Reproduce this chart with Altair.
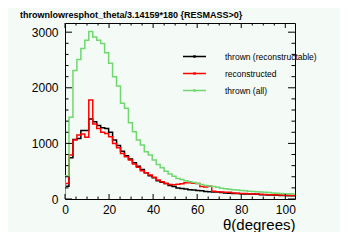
import altair as alt
import pandas as pd

BIN_WIDTH = 1.8
X_MAX = 104.4
Y_MAX = 3165

series_names = ["thrown (reconstructable)", "reconstructed", "thrown (all)"]
series_colors = ["#000000", "#ff0000", "#6fd86f"]

thrown_reco = [230, 740, 1070, 1090, 1230, 1230, 1440, 1390, 1320, 1280,
               1270, 1200, 1060, 960, 860, 780, 720, 650, 590, 530,
               470, 420, 380, 330, 300, 280, 245, 225, 200, 190,
               180, 165, 160, 155, 150, 135, 130, 128, 125, 115,
               110, 105, 100, 97, 95, 92, 90, 88, 85, 78,
               75, 72, 70, 68, 65, 62, 60, 58]
reconstructed = [280, 790, 1060, 1150, 1170, 1110, 1780, 1350, 1270, 1200,
                 1180, 1120, 1000, 920, 820, 760, 700, 630, 570, 510,
                 470, 430, 390, 340, 310, 280, 260, 255, 265, 275,
                 290, 290, 285, 280, 225, 215, 230, 140, 130, 125,
                 122, 120, 110, 105, 100, 98, 95, 92, 90, 85,
                 80, 78, 75, 72, 70, 68, 66, 63]
thrown_all = [420, 1470, 2310, 2510, 2705, 2855, 3010, 2915, 2855, 2795,
              2630, 2440, 2200, 2030, 1720, 1630, 1370, 1210, 1060, 970,
              850, 790, 700, 620, 560, 500, 450, 410, 370, 350,
              330, 310, 295, 280, 260, 245, 235, 225, 210, 195,
              185, 175, 165, 160, 155, 150, 140, 135, 130, 125,
              120, 115, 110, 105, 100, 95, 95, 90]

x_major = [0, 20, 40, 60, 80, 100]
x_minor = [v for v in range(0, 105, 5) if v % 20 != 0]
y_major = [0, 1000, 2000, 3000]
y_minor = [v for v in range(0, 3200, 200) if v % 1000 != 0]

rows = []
for name, vals in zip(series_names, [thrown_reco, reconstructed, thrown_all]):
    idx = 0
    rows.append({"series": name, "theta": 0.0, "count": 0, "idx": idx})
    for i, v in enumerate(vals):
        idx += 1
        rows.append({"series": name, "theta": round(i * BIN_WIDTH, 3), "count": v, "idx": idx})
    idx += 1
    rows.append({"series": name, "theta": round(len(vals) * BIN_WIDTH, 3), "count": vals[-1], "idx": idx})
hist = pd.DataFrame(rows)

W, H = 230, 176
FONT = "Liberation Sans"

xscale = alt.Scale(domain=[0, X_MAX], nice=False, zero=False)
yscale = alt.Scale(domain=[0, Y_MAX], nice=False, zero=False)

lines = alt.Chart(hist).mark_line(interpolate="step-after", strokeWidth=1.5, clip=True).encode(
    x=alt.X("theta:Q", scale=xscale,
            axis=alt.Axis(values=x_major, ticks=False, domain=False, grid=False,
                          labelFontSize=12, labelFont=FONT, labelColor="black",
                          labelPadding=5, labelFlush=False, labelOverlap=False,
                          title="θ(degrees)", titleFont=FONT, titleFontSize=15,
                          titleFontWeight="normal", titleColor="black",
                          titleAnchor="end", titleAlign="right", titleBaseline="alphabetic",
                          titleX=W, titleY=30)),
    y=alt.Y("count:Q", scale=yscale,
            axis=alt.Axis(values=y_major, format="d", ticks=False, domain=False, grid=False,
                          labelFontSize=12, labelFont=FONT, labelColor="black",
                          labelPadding=7, labelOverlap=False, labelFlush=False, title=None)),
    color=alt.Color("series:N",
                    scale=alt.Scale(domain=series_names, range=series_colors),
                    legend=alt.Legend(orient="none", legendX=117, legendY=21, title=None,
                                      symbolType="M-1,0H1M-0.05,-0.05H0.05V0.05H-0.05Z",
                                      symbolSize=529, symbolStrokeWidth=1.5,
                                      labelFontSize=8.5, labelFont=FONT, labelColor="black",
                                      labelOffset=18, rowPadding=-6, padding=0, labelLimit=300)),
    order=alt.Order("idx:Q"),
)

xt_major = pd.DataFrame({"v": x_major})
xt_minor = pd.DataFrame({"v": x_minor})
yt_major = pd.DataFrame({"v": y_major})
yt_minor = pd.DataFrame({"v": y_minor})

def xticks(df, y0, y1):
    return alt.Chart(df).mark_rule(color="black", strokeWidth=1).encode(
        x=alt.X("v:Q", scale=xscale), y=alt.value(y0), y2=alt.value(y1))

def yticks(df, x0, x1):
    return alt.Chart(df).mark_rule(color="black", strokeWidth=1).encode(
        y=alt.Y("v:Q", scale=yscale), x=alt.value(x0), x2=alt.value(x1))

layers = [
    lines,
    xticks(xt_major, H, H - 5), xticks(xt_minor, H, H - 2.5),
    xticks(xt_major, 0, 5), xticks(xt_minor, 0, 2.5),
    yticks(yt_major, 0, 7), yticks(yt_minor, 0, 3.5),
    yticks(yt_major, W, W - 7), yticks(yt_minor, W, W - 3.5),
]

chart = alt.layer(*layers).properties(
    width=W, height=H,
    title=alt.TitleParams("thrownlowresphot_theta/3.14159*180 {RESMASS>0}",
                          anchor="start", frame="group", dx=-45, dy=11, offset=7,
                          baseline="alphabetic", fontSize=9, fontWeight="bold",
                          font=FONT, color="black"),
    autosize=alt.AutoSizeParams(type="none"),
    padding={"left": 57, "top": 15, "right": 45, "bottom": 33},
    background="#f4faf6",
).configure_view(stroke="black", strokeWidth=1)

chart.save("out.html", embed_options={"renderer": "svg", "actions": False})
